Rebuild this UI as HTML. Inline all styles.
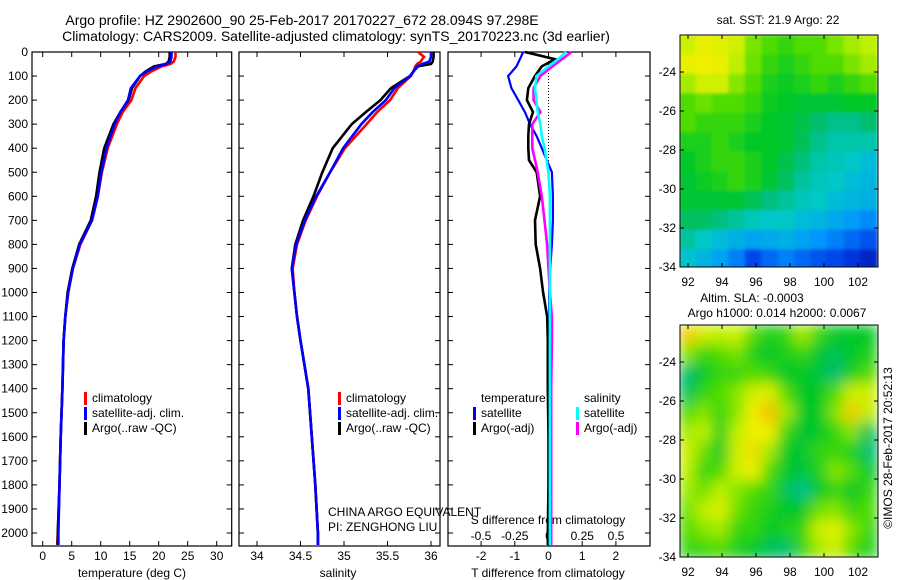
<!DOCTYPE html>
<html><head><meta charset="utf-8"><style>
html,body{margin:0;padding:0;background:#fff;}
svg{display:block;font-family:"Liberation Sans",sans-serif;font-size:12px;}
</style></head><body>
<svg id="chart" width="900" height="580" viewBox="0 0 900 580">
<defs>
<filter id="blurS" x="0" y="0" width="1" height="1"><feGaussianBlur stdDeviation="7" edgeMode="duplicate"/></filter>
<filter id="blurT" x="0" y="0" width="1" height="1"><feGaussianBlur stdDeviation="1.5" edgeMode="duplicate"/></filter>
<clipPath id="clipTop"><rect x="680" y="35" width="198" height="232"/></clipPath>
<clipPath id="clipBot"><rect x="680" y="325" width="198" height="232"/></clipPath>
</defs>
<text x="302" y="25" text-anchor="middle" style="font-size:14px">Argo profile: HZ 2902600_90 25-Feb-2017 20170227_672 28.094S 97.298E</text>
<text x="336" y="41" text-anchor="middle" style="font-size:14px">Climatology: CARS2009. Satellite-adjusted climatology: synTS_20170223.nc (3d earlier)</text>
<g id="g"></g>
</svg>
<script>
// ---- profile data ----
const depths = [0,20,40,50,60,80,100,150,200,250,300,400,500,600,700,800,900,1000,1100,1200,1400,1600,1800,2000,2050];
const tempClim = [22.9,22.9,22.6,22,20.5,18.8,17.5,16,15.3,13.8,12.8,11.2,10.2,9.5,8.5,6.5,5.2,4.4,3.9,3.6,3.4,3.1,2.9,2.6,2.5];
const tempSat  = [22.2,22.2,22,21.3,19.8,18,16.8,15.2,14.7,13.4,12.4,11,10.1,9.5,8.5,6.4,5.2,4.4,3.9,3.6,3.4,3.1,2.9,2.7,2.7];
const tempArgo = [21.9,21.9,21.7,21.2,19.2,17.8,16.8,15.4,14.8,13.4,12.2,10.6,9.8,9.2,8.3,6.3,5.1,4.3,3.9,3.6,3.4,3.1,2.9,2.6,2.6];
const salClim = [35.85,35.92,35.88,35.84,35.82,35.8,35.77,35.62,35.53,35.38,35.26,35.01,34.84,34.69,34.56,34.46,34.41,34.43,34.46,34.5,34.59,34.63,34.67,34.7,34.7];
const salSat  = [36.0,36.0,35.98,35.9,35.84,35.8,35.76,35.58,35.48,35.33,35.2,34.99,34.84,34.68,34.55,34.45,34.4,34.43,34.46,34.5,34.59,34.63,34.67,34.7,34.7];
const salArgo = [36.03,36.03,36.02,36.0,35.85,35.8,35.76,35.54,35.42,35.25,35.09,34.87,34.75,34.65,34.53,34.44,34.4,34.43,34.46,34.5,34.59,34.63,34.67,34.7,34.7];
const diffDepths = [0,30,60,100,150,200,250,300,350,400,450,500,600,700,800,900,1000,1100,1200,1400,1600,1800,2000,2050];
const tDiffArgo = [-0.7,0.2,-0.2,-0.4,-0.6,-0.64,-0.46,-0.58,-0.6,-0.6,-0.58,-0.35,-0.25,-0.4,-0.38,-0.25,-0.16,-0.04,-0.02,-0.02,0,0,-0.02,-0.02];
const tDiffSat  = [-0.75,-0.85,-0.95,-1.2,-1.1,-0.9,-0.7,-0.55,-0.35,-0.2,-0.05,0.1,0.13,0.13,0.1,0.05,0.02,0.02,0.02,0.01,0.01,0,0,0];
const sDiffArgo = [0.17,0.1,0.03,-0.06,-0.11,-0.11,-0.06,-0.12,-0.12,-0.12,-0.1,-0.08,-0.05,-0.03,-0.01,0,0.01,0.025,0.025,0.02,0.02,0.02,0.02,0.02];
const sDiffSat  = [0.13,0.07,0,-0.09,-0.1,-0.09,-0.08,-0.06,-0.05,-0.03,-0.015,0,0.01,0.01,0.01,0.01,0.01,0.01,0.01,0.01,0.01,0.01,0.01,0.01];
const depthTicks = [0,100,200,300,400,500,600,700,800,900,1000,1100,1200,1300,1400,1500,1600,1700,1800,1900,2000];
const tempTicks = [0,5,10,15,20,25,30];
const salTicks = [34,34.5,35,35.5,36];
const salTickLabels = ["34","34.5","35","35.5","36"];
const tDiffTicks = [-2,-1,0,1,2];
const sDiffTicks = [-0.5,-0.25,0,0.25,0.5];
const sDiffTickLabels = ["-0.5","-0.25","0","0.25","0.5"];
// ---- map data (normalized colour index) ----
const mapLons = [91.97,92.94,93.91,94.88,95.85,96.82,97.79,98.76,99.73,100.7,101.67,102.64];
const mapLats = [-22.6,-23.6,-24.6,-25.6,-26.6,-27.6,-28.6,-29.6,-30.6,-31.6,-32.6,-33.6];
const sstRows = [
[0.72,0.75,0.74,0.72,0.65,0.62,0.6,0.62,0.62,0.65,0.68,0.7],
[0.75,0.76,0.75,0.7,0.64,0.6,0.58,0.6,0.62,0.62,0.65,0.68],
[0.68,0.72,0.72,0.66,0.62,0.58,0.57,0.58,0.6,0.58,0.6,0.62],
[0.62,0.64,0.62,0.62,0.6,0.57,0.56,0.55,0.55,0.55,0.56,0.56],
[0.62,0.6,0.6,0.6,0.58,0.56,0.55,0.53,0.5,0.48,0.48,0.5],
[0.58,0.58,0.6,0.58,0.56,0.56,0.55,0.52,0.48,0.46,0.46,0.46],
[0.56,0.58,0.6,0.6,0.58,0.56,0.53,0.49,0.46,0.45,0.44,0.42],
[0.55,0.57,0.58,0.6,0.58,0.55,0.51,0.47,0.45,0.44,0.42,0.41],
[0.55,0.55,0.55,0.55,0.52,0.49,0.47,0.45,0.44,0.42,0.41,0.4],
[0.51,0.51,0.49,0.47,0.45,0.44,0.44,0.42,0.41,0.39,0.37,0.35],
[0.47,0.44,0.42,0.4,0.38,0.39,0.4,0.38,0.36,0.34,0.32,0.3],
[0.43,0.41,0.38,0.34,0.29,0.32,0.34,0.32,0.3,0.29,0.27,0.25]];
const slaRows = [
[0.8,0.72,0.7,0.72,0.62,0.58,0.6,0.68,0.6,0.56,0.56,0.56],
[0.66,0.6,0.62,0.65,0.58,0.56,0.58,0.6,0.55,0.52,0.56,0.58],
[0.5,0.56,0.6,0.6,0.62,0.6,0.56,0.56,0.54,0.5,0.58,0.62],
[0.52,0.6,0.62,0.66,0.72,0.74,0.62,0.56,0.56,0.62,0.72,0.72],
[0.62,0.66,0.6,0.66,0.76,0.82,0.68,0.56,0.56,0.66,0.8,0.7],
[0.68,0.7,0.58,0.7,0.76,0.76,0.6,0.55,0.56,0.6,0.66,0.52],
[0.72,0.64,0.56,0.72,0.78,0.68,0.56,0.55,0.6,0.6,0.58,0.5],
[0.7,0.6,0.62,0.72,0.76,0.62,0.56,0.54,0.58,0.66,0.62,0.56],
[0.68,0.64,0.7,0.66,0.62,0.6,0.52,0.48,0.56,0.6,0.56,0.6],
[0.64,0.7,0.74,0.64,0.6,0.58,0.56,0.56,0.64,0.66,0.6,0.62],
[0.62,0.66,0.68,0.6,0.6,0.56,0.58,0.6,0.72,0.74,0.66,0.6],
[0.6,0.6,0.62,0.58,0.56,0.52,0.5,0.6,0.68,0.72,0.62,0.58]];
const lonTicks = [92,94,96,98,100,102];
const latTicks = [-24,-26,-28,-30,-32,-34];

const NS="http://www.w3.org/2000/svg";
const G=document.getElementById('g');
function mk(tag,attrs,parent){const e=document.createElementNS(NS,tag);for(const k in attrs)e.setAttribute(k,attrs[k]);(parent||G).appendChild(e);return e;}
function txt(x,y,s,anchor,parent){const t=mk('text',{x:x,y:y,'text-anchor':anchor||'start'},parent);t.textContent=s;return t;}

const TOP=52,BOT=546;
const yD=d=>TOP+d*0.2405;
const xT=v=>42.7+v*5.8;
const xS=v=>257+(v-34)*87;
const xTd=v=>548.5+v*33.7;
const xSd=v=>548.5+v*135;

function panel(x0,x1,name){
  const r=mk('rect',{x:x0,y:TOP,width:x1-x0,height:BOT-TOP,fill:'none',stroke:'#000','stroke-width':1.2});
  
  
  depthTicks.forEach(d=>{const y=yD(d);mk('line',{x1:x0,x2:x0+5,y1:y,y2:y,stroke:'#000'});mk('line',{x1:x1,x2:x1-5,y1:y,y2:y,stroke:'#000'});});
}
function xticks(ticks,labels,fx,name,ly){
  ticks.forEach((v,i)=>{const x=fx(v);mk('line',{x1:x,x2:x,y1:BOT,y2:BOT-5,stroke:'#000'});mk('line',{x1:x,x2:x,y1:TOP,y2:TOP+5,stroke:'#000'});
    const t=txt(x,ly||560,labels?labels[i]:String(v),'middle');
    
    });
}
function line(xs,ds,fx,color,name,w){
  const pts=xs.map((v,i)=>fx(v).toFixed(1)+','+yD(ds[i]).toFixed(1)).join(' ');
  const p=mk('polyline',{points:pts,fill:'none',stroke:color,'stroke-width':w||2.6,'stroke-linejoin':'miter'});
  
  
}
function legend(x,y,color,label,name){
  mk('rect',{x:x,y:y-10,width:3,height:13,fill:color});
  const t=txt(x+8,y,label);
  
  
}

// panel 1
panel(32,231.7,'temperature-panel');
depthTicks.forEach(d=>{const t=txt(28,yD(d)+4,String(d),'end');
  
  });
xticks(tempTicks,null,xT,'temperature');
let t1=txt(132,577,'temperature (deg C)','middle');


line(tempClim,depths,xT,'#ff0000','temp-climatology-line');
line(tempArgo,depths,xT,'#000000','temp-argo-line');
line(tempSat,depths,xT,'#0000ff','temp-satellite-line');
legend(84,402,'#ff0000','climatology','legend-climatology');
legend(84,417,'#0000ff','satellite-adj. clim.','legend-satellite');
legend(84,432,'#000000','Argo(..raw -QC)','legend-argo');

// panel 2
panel(239,440,'salinity-panel');
xticks(salTicks,salTickLabels,xS,'salinity');
let t2=txt(338,577,'salinity','middle');


line(salClim,depths,xS,'#ff0000','sal-climatology-line');
line(salArgo,depths,xS,'#000000','sal-argo-line');
line(salSat,depths,xS,'#0000ff','sal-satellite-line');
legend(338,402,'#ff0000','climatology','legend-climatology-2');
legend(338,417,'#0000ff','satellite-adj. clim.','legend-satellite-2');
legend(338,432,'#000000','Argo(..raw -QC)','legend-argo-2');
let c1=txt(328,516,'CHINA ARGO EQUIVALENT');


let c2=txt(328,531,'PI: ZENGHONG LIU');



// panel 3
panel(448,650,'difference-panel');
xticks(tDiffTicks,null,xTd,'t-difference');
sDiffTicks.forEach((v,i)=>{const t=txt(xSd(v),540,sDiffTickLabels[i],'middle');
  
  });
let t3=txt(548,524,'S difference from climatology','middle');


let t4=txt(548,577,'T difference from climatology','middle');


mk('line',{x1:548.5,x2:548.5,y1:TOP,y2:yD(460),stroke:'#000','stroke-dasharray':'1,2'});
line(tDiffSat,diffDepths,xTd,'#0000ff','t-diff-satellite-line',2.2);
line(tDiffArgo,diffDepths,xTd,'#000000','t-diff-argo-line');
line(sDiffArgo,diffDepths,xSd,'#ff00ff','s-diff-argo-line');
line(sDiffSat,diffDepths,xSd,'#00ffff','s-diff-satellite-line');
let h1=txt(481,402,'temperature');
let h2=txt(584,402,'salinity');
legend(473,417,'#0000ff','satellite','legend-t-satellite');
legend(473,432,'#000000','Argo(-adj)','legend-t-argo');
legend(576,417,'#00ffff','satellite','legend-s-satellite');
legend(576,432,'#ff00ff','Argo(-adj)','legend-s-argo');

// maps
const stops=[[0.2,[0,0,150]],[0.28,[0,60,230]],[0.36,[0,150,255]],[0.44,[0,200,200]],[0.5,[0,190,110]],[0.56,[0,200,40]],[0.62,[80,220,0]],[0.7,[190,240,0]],[0.76,[240,240,0]],[0.85,[245,160,0]]];
function cmap(v){if(v<=stops[0][0])return 'rgb('+stops[0][1]+')';
  for(let i=1;i<stops.length;i++){if(v<=stops[i][0]){const a=stops[i-1],b=stops[i],f=(v-a[0])/(b[0]-a[0]);
    return 'rgb('+a[1].map((c,k)=>Math.round(c+(b[1][k]-c)*f)).join(',')+')';}}
  return 'rgb('+stops[stops.length-1][1]+')';}
const lonX=l=>688+(l-92)*17;
function drawMap(rows,latY,top,clip,filter,name){
  const cg=mk('g',{'clip-path':'url(#'+clip+')'});
  const g=mk('g',{filter:'url(#'+filter+')'},cg);
  
  
  rows.forEach((row,ri)=>row.forEach((v,ci)=>{
    const x=lonX(mapLons[ci])-8.7, y=latY(mapLats[ri])-10;
    const c=mk('rect',{x:x.toFixed(1),y:y.toFixed(1),width:17.8,height:20.2,fill:cmap(v)},g);
    
    
  }));
  mk('rect',{x:680,y:top,width:198,height:232,fill:'none',stroke:'#000','stroke-width':1});
  lonTicks.forEach(l=>{const x=lonX(l);mk('line',{x1:x,x2:x,y1:top,y2:top+4,stroke:'#000'});mk('line',{x1:x,x2:x,y1:top+232,y2:top+228,stroke:'#000'});
    const t=txt(x,top+251,String(l),'middle');});
  latTicks.forEach(l=>{const y=latY(l);mk('line',{x1:680,x2:684,y1:y,y2:y,stroke:'#000'});mk('line',{x1:878,x2:874,y1:y,y2:y,stroke:'#000'});
    const t=txt(676,y+4,String(l),'end');});
}
drawMap(sstRows,l=>72+(-24-l)*19.5,35,'clipTop','blurT','sst-map');
drawMap(slaRows,l=>362+(-24-l)*19.5,325,'clipBot','blurS','sla-map');
let m1=txt(778,24,'sat. SST: 21.9 Argo: 22','middle');
let m2=txt(752,302,'Altim. SLA: -0.0003','middle');
let m3=txt(777,317,'Argo h1000: 0.014 h2000: 0.0067','middle');
let m4=txt(0,0,'\u00a9IMOS 28-Feb-2017 20:52:13','middle');
m4.setAttribute('transform','translate(892,448) rotate(-90)');


</script>
</body></html>
